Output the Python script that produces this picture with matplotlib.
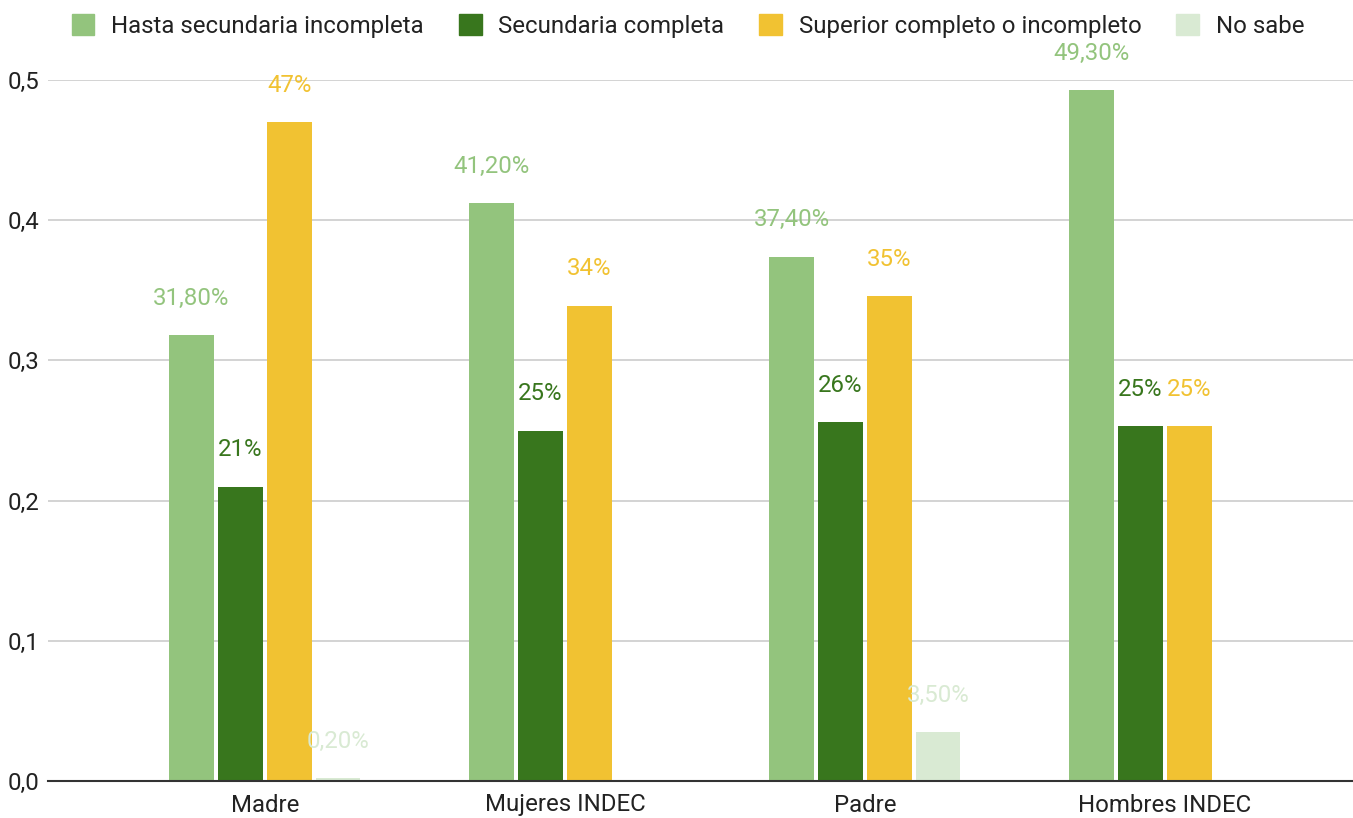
import numpy as np
import matplotlib
matplotlib.use('Agg')
import matplotlib.pyplot as plt

plt.rcParams['font.family'] = ['Roboto', 'DejaVu Sans']

categories = ['Madre', 'Mujeres INDEC', 'Padre', 'Hombres INDEC']
series_names = ['Hasta secundaria incompleta', 'Secundaria completa',
                'Superior completo o incompleto', 'No sabe']
hasta_sec = [0.318, 0.412, 0.374, 0.493]
sec_completa = [0.21, 0.25, 0.256, 0.253]
superior = [0.47, 0.339, 0.346, 0.253]
no_sabe = [0.002, None, 0.035, None]
colors = ['#93c47d', '#38761d', '#f1c232', '#d9ead3']
label_fmt = ['{:.2f}%', '{:.0f}%', '{:.0f}%', '{:.2f}%']

series = [hasta_sec, sec_completa, superior, no_sabe]
fs = 17.3

fig = plt.figure(figsize=(13.53, 8.18), dpi=100)
ax = fig.add_axes([48 / 1353, 37 / 818, 1 - 48 / 1353, 701 / 818])

x = np.arange(len(categories))
width = 0.148
pitch = 0.163
handles = []
for i, vals in enumerate(series):
    offs = (i - 1.5) * pitch
    for j, v in enumerate(vals):
        if v is None:
            continue
        ax.bar(x[j] + offs, v, width, color=colors[i], zorder=3)
        txt = label_fmt[i].format(v * 100).replace('.', ',')
        ax.annotate(txt, (x[j] + offs, v), xytext=(0, 26.5), textcoords='offset points',
                    ha='center', va='center', color=colors[i], fontsize=fs,
                    annotation_clip=False)
    handles.append(plt.Rectangle((0, 0), 1, 1, color=colors[i]))

ax.set_xlim(-0.723, 3.627)
ax.set_ylim(0, 0.5)
ax.set_yticks([0, 0.1, 0.2, 0.3, 0.4, 0.5])
ax.set_yticklabels(['0,0', '0,1', '0,2', '0,3', '0,4', '0,5'])
ax.set_xticks(x)
ax.set_xticklabels(categories)
ax.tick_params(axis='both', length=0, labelsize=fs, colors='#222222', pad=8)
ax.tick_params(axis='y', pad=6)
ax.tick_params(axis='x', pad=9)
ax.grid(axis='y', color='#cccccc', linewidth=1.2, zorder=0)
for s in ['top', 'right', 'left']:
    ax.spines[s].set_visible(False)
ax.spines['bottom'].set_color('#333333')
ax.spines['bottom'].set_linewidth(1.5)
ax.spines['bottom'].set_zorder(4)

fig.legend(handles, series_names, loc='center left', bbox_to_anchor=(50 / 1353, 1 - 26 / 818),
           ncol=4, frameon=False, fontsize=fs, handlelength=0.95, handleheight=0.95,
           handletextpad=0.7, columnspacing=1.45, labelcolor='#222222')

fig.savefig('out.png', dpi=100)
